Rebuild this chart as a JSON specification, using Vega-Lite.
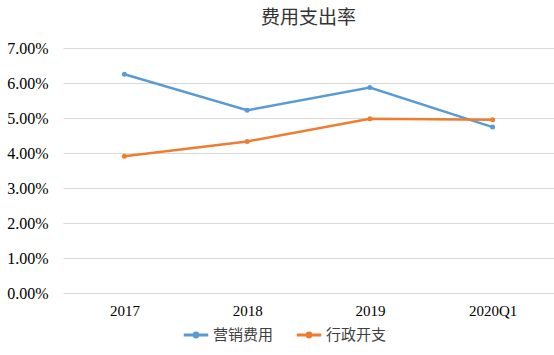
{
  "$schema": "https://vega.github.io/schema/vega-lite/v6.json",
  "autosize": {"type": "fit", "contains": "padding"},
  "width": 554,
  "height": 355,
  "padding": {"left": 6, "right": 0, "top": 9, "bottom": 37},
  "background": "white",
  "title": {"text": "费用支出率", "font": "Noto Sans CJK SC", "fontSize": 19, "fontWeight": "normal", "color": "#333333", "offset": 12},
  "data": {"values": [
    {"period": "2017", "series": "营销费用", "rate": 0.0625},
    {"period": "2018", "series": "营销费用", "rate": 0.0522},
    {"period": "2019", "series": "营销费用", "rate": 0.0587},
    {"period": "2020Q1", "series": "营销费用", "rate": 0.0474},
    {"period": "2017", "series": "行政开支", "rate": 0.0391},
    {"period": "2018", "series": "行政开支", "rate": 0.0433},
    {"period": "2019", "series": "行政开支", "rate": 0.0498},
    {"period": "2020Q1", "series": "行政开支", "rate": 0.0495}
  ]},
  "mark": {"type": "line", "strokeWidth": 2.5, "point": {"size": 25, "filled": true}},
  "encoding": {
    "x": {"field": "period", "type": "ordinal", "sort": null, "title": null,
      "axis": {"labelAngle": 0, "labelFont": "Liberation Serif", "labelFontSize": 15, "labelColor": "#000", "domain": false, "ticks": false, "labelPadding": 10, "grid": false}},
    "y": {"field": "rate", "type": "quantitative", "title": null,
      "scale": {"domain": [0, 0.07], "nice": false},
      "axis": {"format": ".2%", "values": [0, 0.01, 0.02, 0.03, 0.04, 0.05, 0.06, 0.07], "labelFont": "Liberation Serif", "labelFontSize": 16, "labelColor": "#000", "domain": false, "ticks": false, "labelPadding": 15, "gridColor": "#d9d9d9"}},
    "color": {"field": "series", "type": "nominal", "sort": ["营销费用", "行政开支"],
      "scale": {"domain": ["营销费用", "行政开支"], "range": ["#5b9bd5", "#ed7d31"]},
      "legend": {"orient": "none", "legendX": 119, "legendY": 273, "direction": "horizontal", "title": null, "labelFont": "Noto Sans CJK SC", "labelFontSize": 15, "labelColor": "#404040",
        "symbolType": "M-1,0H1M0.16,0A0.16,0.16 0 1,1 -0.16,0A0.16,0.16 0 1,1 0.16,0", "symbolStrokeWidth": 3, "symbolSize": 600, "labelOffset": 3, "columnPadding": 16}}
  },
  "config": {"view": {"stroke": null}}
}
